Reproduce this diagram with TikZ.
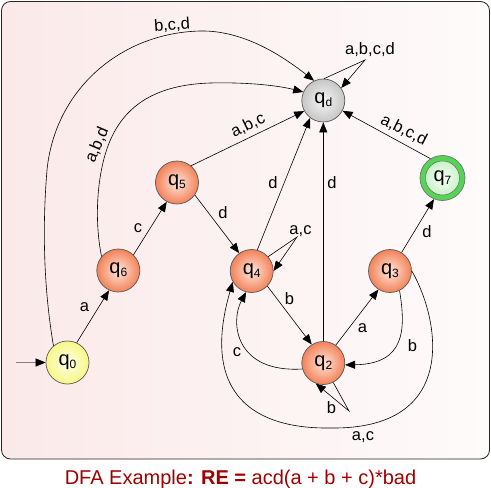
\documentclass[tikz,border=0pt]{standalone}
\usepackage{fontspec}
\setmainfont{Liberation Sans}
\usetikzlibrary{arrows.meta}
\definecolor{capred}{HTML}{A00000}
\definecolor{orout}{HTML}{F38258}
\definecolor{orin}{HTML}{FFE6DC}
\definecolor{grout}{HTML}{C6C6C6}
\definecolor{grin}{HTML}{F6F6F6}
\definecolor{yeout}{HTML}{F7F785}
\definecolor{yein}{HTML}{FFFFEC}
\definecolor{gnring}{HTML}{55D455}
\definecolor{gnout}{HTML}{C9F2C9}
\definecolor{gnin}{HTML}{FAFFFA}
\definecolor{panl}{HTML}{FBE9E9}
\definecolor{panr}{HTML}{FEFBFB}
\newcommand{\qs}[1]{q\raisebox{-3pt}{\fontsize{12}{12}\selectfont #1}}
\begin{document}
\begin{tikzpicture}[x=1pt,y=-1pt,
  edge/.style={draw=black, line width=0.6pt, -{Triangle[length=10pt,width=8pt]}},
  lbl/.style={font=\fontsize{16.5}{18}\selectfont, inner sep=0pt},
  stbase/.style={circle, minimum size=43pt, inner sep=0pt, draw=black!65, line width=0.7pt, font=\fontsize{20}{20}\selectfont},
  ststate/.style={stbase, shading=radial, inner color=orin, outer color=orout},
  stdead/.style={stbase, shading=radial, inner color=grin, outer color=grout},
  ststart/.style={stbase, shading=radial, inner color=yein, outer color=yeout},
  stacc/.style={stbase, minimum size=45pt, fill=gnring, draw=black!55},
  staccin/.style={stbase, minimum size=34pt, line width=0.5pt, draw=black!60, shading=radial, inner color=gnin, outer color=gnout}
]
\useasboundingbox (0,0) rectangle (491,488);
% panel
\path[draw=black!85, line width=0.8pt, rounded corners=9pt, left color=panl, right color=panr]
  (1.5,1.5) rectangle (489.5,459);
% states
\node[ststart] (q0) at (67.5,362.5) {\qs{0}};
\node[ststate] (q6) at (118.3,270.5) {\qs{6}};
\node[ststate] (q5) at (177,182.5) {\qs{5}};
\node[ststate] (q4) at (251.7,271) {\qs{4}};
\node[stdead] (qd) at (323.3,100.5) {\qs{d}};
\node[ststate] (q2) at (323.3,363) {\qs{2}};
\node[ststate] (q3) at (390,271) {\qs{3}};
\node[stacc] (q7) at (442.5,178) {};
\node[staccin] (q7i) at (q7.center) {\qs{7}};
% start arrow
\coordinate (start) at (16,362.5);
\draw[line width=0.6pt, draw=black!50, -{Triangle[length=10pt,width=8pt,color=black]}] (start) -- (q0);
% straight edges
\draw[edge] (q0.65) -- (q6.245);
\draw[edge] (q6.46) -- (q5.242);
\draw[edge] (q5.-35) -- (q4.125);
\draw[edge] (q5.50) -- (qd.209);
\draw[edge] (q4.75) -- (qd.233);
\draw[edge] (q2.90) -- (qd.270);
\draw[edge] (q7.122) -- (qd.-28);
\draw[edge] (q4.-44) -- (q2.122);
\draw[edge] (q2.55) -- (q3.238);
\draw[edge] (q3.58) -- (q7.248);
% self loops
\coordinate (ldl) at (365,60);
\coordinate (l4) at (297,237);
\coordinate (l2) at (349,411);
\draw[edge] (qd.88) -- (ldl) -- (qd.35);
\draw[edge] (q4.41) -- (l4) -- (q4.0);
\draw[edge] (q2.-63) -- (l2) -- (q2.-110);
% curved edges
\draw[edge] (q0.130) .. controls (44,290) and (42,230) .. (47,170)
  .. controls (55,90) and (120,33) .. (200,31)
  .. controls (245,30) and (285,58) .. (qd.115);
\draw[edge] (q6.140) .. controls (96,230) and (95,190) .. (105,155)
  .. controls (118,110) and (150,85) .. (210,83)
  .. controls (250,82) and (280,86) .. (qd.157);
\draw[edge] (q2.196) .. controls (235,373) and (230,322) .. (q4.255);
\draw[edge] (q3.-64) .. controls (406,330) and (405,364) .. (q2.-5);
\draw[edge] (q3.0) .. controls (440,320) and (460,430) .. (330,428)
  .. controls (255,429) and (200,395) .. (q4.210);
% labels
\node[lbl] (la06) at (84.5,307.5) {a};
\node[lbl] (lc65) at (138,228) {c};
\node[lbl] (ld54) at (223,212.5) {d};
\node[lbl, rotate=26] (labc) at (248,125) {a,b,c};
\node[lbl, rotate=67] (labd) at (97,145) {a,b,d};
\node[lbl, rotate=4] (lbcd) at (172,25) {b,c,d};
\node[lbl] (ld4d) at (273,182.5) {d};
\node[lbl] (ld2d) at (332,182.5) {d};
\node[lbl, rotate=-27] (labcd) at (404,130) {a,b,c,d};
\node[lbl] (lddl) at (370,50) {a,b,c,d};
\node[lbl] (lac4) at (300.5,231) {a,c};
\node[lbl] (lb42) at (289.5,298.5) {b};
\node[lbl] (lc24) at (237,352) {c};
\node[lbl] (la23) at (362.5,328) {a};
\node[lbl] (lb32) at (412.5,346) {b};
\node[lbl] (ld37) at (427,232) {d};
\node[lbl] (lb22) at (331.5,407.5) {b};
\node[lbl] (lac34) at (363,437) {a,c};
% caption
\node[font=\fontsize{20}{24}\selectfont, text=capred, anchor=base, inner sep=0pt] (cap) at (240.5,484.5)
  {DFA Example\textbf{: RE =} acd(a + b + c)*bad};
\end{tikzpicture}
\end{document}
